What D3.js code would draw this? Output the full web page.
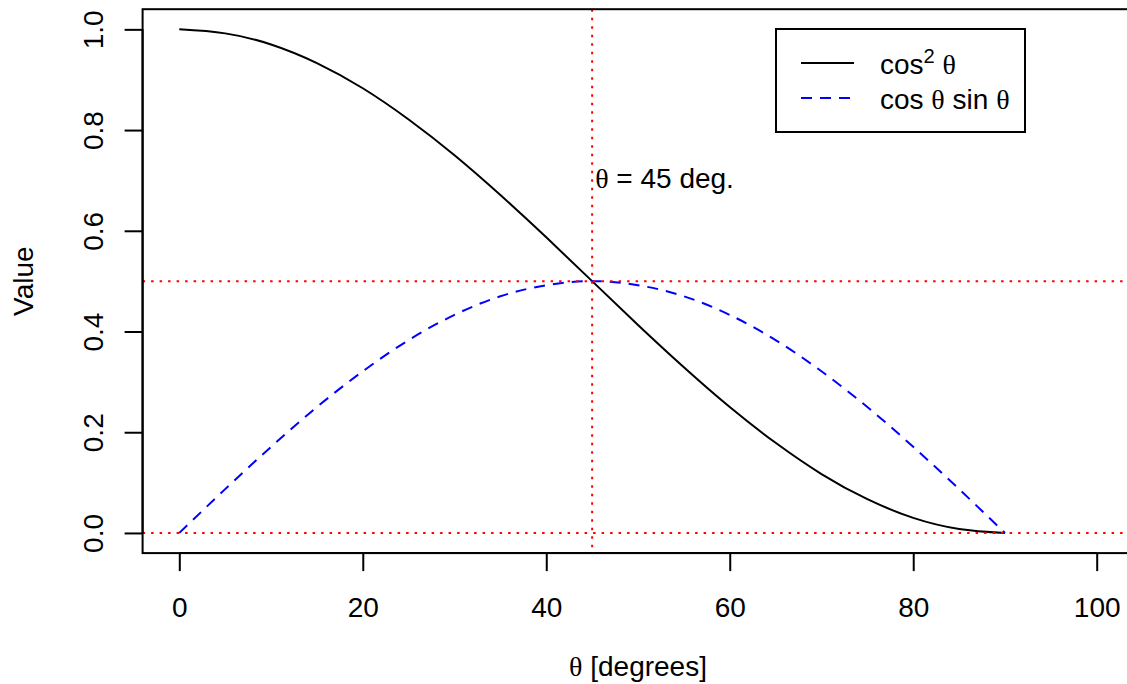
<!DOCTYPE html>
<html>
<head>
<meta charset="utf-8">
<script src="https://cdn.jsdelivr.net/npm/d3@7"></script>
<style>
  body { margin: 0; background: #fff; }
  svg { display: block; }
  text { font-family: "Liberation Sans", Arial, Helvetica, sans-serif; fill: #000; }
  .greek { font-family: "Liberation Serif", "DejaVu Serif", serif; }
</style>
</head>
<body>
<div id="chart"></div>
<script>
// angles in degrees and values
const theta = [0, 5, 10, 15, 20, 25, 30, 35, 40, 45, 50, 55, 60, 65, 70, 75, 80, 85, 90]
const cos2 = [1.000, 0.992, 0.970, 0.933, 0.883, 0.821, 0.750, 0.671, 0.587, 0.500,
              0.413, 0.329, 0.250, 0.179, 0.117, 0.067, 0.030, 0.008, 0.000]
const cosSin = [0.000, 0.087, 0.171, 0.250, 0.321, 0.383, 0.433, 0.470, 0.492, 0.500,
                0.492, 0.470, 0.433, 0.383, 0.321, 0.250, 0.171, 0.087, 0.000]
const xTicks = [0, 20, 40, 60, 80, 100]
const yTicks = [0.0, 0.2, 0.4, 0.6, 0.8, 1.0]
const vLines = [45]
const hLines = [0.5, 0]
const note = {x: 45, y: 0.7, label: " = 45 deg."}

const width = 1127,
    height = 684,
    fs = 28,
    blueDash = "11,8",
    redDots = "2.5,6"

const x = d3.scaleLinear().domain([-4, 104]).range([142.6, 1133.4])
const y = d3.scaleLinear().domain([-0.04, 1.04]).range([553.1, 9.2])

const svg = d3.select("#chart")
    .append("svg")
    .attr("width", width)
    .attr("height", height)

const plot = svg.append("g")

svg.append("clipPath")
    .attr("id", "clip")
    .append("rect")
    .attr("x", x.range()[0])
    .attr("y", y.range()[1])
    .attr("width", x.range()[1] - x.range()[0])
    .attr("height", y.range()[0] - y.range()[1])

const inner = plot.append("g").attr("clip-path", "url(#clip)")

const line = d3.line()
    .x(d => x(d[0]))
    .y(d => y(d[1]))
    .curve(d3.curveNatural)

inner.append("path")
    .datum(theta.map((t, i) => [t, cos2[i]]))
    .attr("d", line)
    .attr("fill", "none")
    .attr("stroke", "#000")
    .attr("stroke-width", 2)

inner.append("path")
    .datum(theta.map((t, i) => [t, cosSin[i]]))
    .attr("d", line)
    .attr("fill", "none")
    .attr("stroke", "#0000ff")
    .attr("stroke-width", 2)
    .attr("stroke-dasharray", blueDash)

// red dotted reference lines
inner.selectAll(".vline")
    .data(vLines)
    .join("line")
    .attr("x1", d => x(d)).attr("x2", d => x(d))
    .attr("y1", y.range()[1]).attr("y2", y.range()[0])
    .attr("stroke", "#ff0000")
    .attr("stroke-width", 2)
    .attr("stroke-dasharray", redDots)

inner.selectAll(".hline")
    .data(hLines)
    .join("line")
    .attr("x1", x.range()[0]).attr("x2", x.range()[1])
    .attr("y1", d => y(d)).attr("y2", d => y(d))
    .attr("stroke", "#ff0000")
    .attr("stroke-width", 2)
    .attr("stroke-dasharray", redDots)

// box (right side falls outside the page)
plot.append("rect")
    .attr("x", x.range()[0])
    .attr("y", y.range()[1])
    .attr("width", x.range()[1] - x.range()[0])
    .attr("height", y.range()[0] - y.range()[1])
    .attr("fill", "none")
    .attr("stroke", "#000")
    .attr("stroke-width", 2)

// axes
const xAxis = svg.append("g")
    .attr("transform", `translate(0,${y.range()[0]})`)
    .call(d3.axisBottom(x).tickValues(xTicks).tickSize(18).tickFormat(d3.format("d")))
xAxis.select(".domain")
    .attr("d", `M${x(xTicks[0])},0H${x(xTicks[xTicks.length - 1])}`)
xAxis.selectAll("line").attr("stroke-width", 2)
xAxis.selectAll(".domain").attr("stroke-width", 2)
xAxis.selectAll("text")
    .attr("y", 0)
    .attr("dy", 0)
    .attr("transform", "translate(0,64)")
    .style("font-size", fs + "px")
    .attr("fill", "#000")

const yAxis = svg.append("g")
    .attr("transform", `translate(${x.range()[0]},0)`)
    .call(d3.axisLeft(y).tickValues(yTicks).tickSize(18).tickFormat(d3.format(".1f")))
yAxis.select(".domain")
    .attr("d", `M0,${y(yTicks[0])}V${y(yTicks[yTicks.length - 1])}`)
yAxis.selectAll("line").attr("stroke-width", 2)
yAxis.selectAll(".domain").attr("stroke-width", 2)
yAxis.selectAll("text")
    .attr("x", 0)
    .attr("dy", 0)
    .attr("text-anchor", "middle")
    .attr("transform", "translate(-40,0) rotate(-90)")
    .style("font-size", fs + "px")
    .attr("fill", "#000")

// axis titles
const xTitle = svg.append("text")
    .attr("x", (x.range()[0] + x.range()[1]) / 2)
    .attr("y", 676)
    .attr("text-anchor", "middle")
    .style("font-size", fs + "px")
xTitle.append("tspan").attr("class", "greek").text("θ")
xTitle.append("tspan").text(" [degrees]")

svg.append("text")
    .attr("transform", `translate(33,${(y.range()[0] + y.range()[1]) / 2}) rotate(-90)`)
    .attr("text-anchor", "middle")
    .style("font-size", fs + "px")
    .text("Value")

// annotation
const ann = svg.append("text")
    .attr("x", x(note.x) + 3)
    .attr("y", y(note.y) + 8)
    .style("font-size", fs + "px")
ann.append("tspan").attr("class", "greek").text("θ")
ann.append("tspan").text(note.label)

// legend
const legend = svg.append("g")
legend.append("rect")
    .attr("x", 776).attr("y", 29)
    .attr("width", 249).attr("height", 103)
    .attr("fill", "#fff")
    .attr("stroke", "#000")
    .attr("stroke-width", 2)

const items = [
    {stroke: "#000", dash: null, parts: [["cos", ""], ["2", "sup"], [" ", ""], ["θ", "greek"]]},
    {stroke: "#0000ff", dash: blueDash, parts: [["cos ", ""], ["θ", "greek"], [" sin ", ""], ["θ", "greek"]]}
]

items.forEach((it, i) => {
    const ly = 63 + i * 35
    legend.append("line")
        .attr("x1", 801).attr("x2", 854)
        .attr("y1", ly).attr("y2", ly)
        .attr("stroke", it.stroke)
        .attr("stroke-width", 2)
        .attr("stroke-dasharray", it.dash)
    const t = legend.append("text")
        .attr("x", 880)
        .attr("y", ly + 11)
        .style("font-size", fs + "px")
    it.parts.forEach(p => {
        const sp = t.append("tspan").text(p[0])
        if (p[1] === "greek") sp.attr("class", "greek")
        if (p[1] === "sup") {
            sp.style("font-size", (fs * 0.72) + "px").attr("dy", -11)
        } else if (p[0] === " " && p[1] === "") {
            sp.attr("dy", 11)
        }
    })
})
</script>
</body>
</html>
